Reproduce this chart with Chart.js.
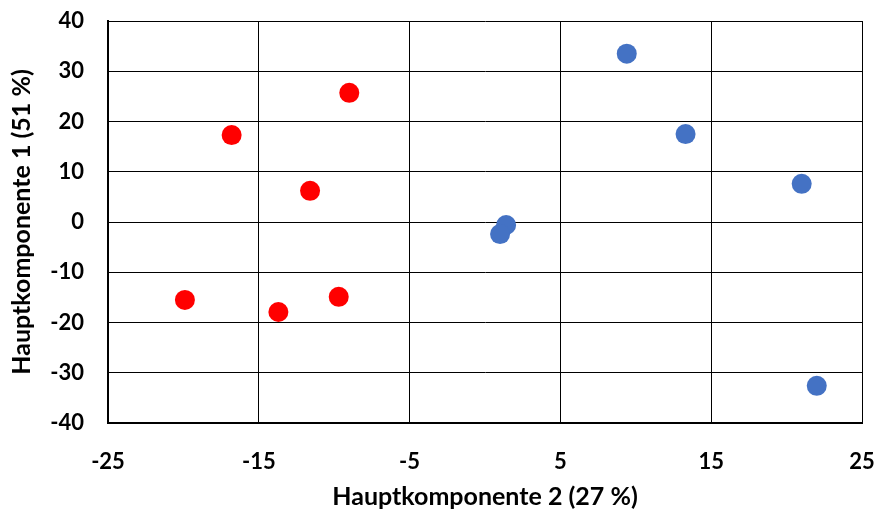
<!DOCTYPE html>
<html>
<head>
<meta charset="utf-8">
<script src="https://cdn.jsdelivr.net/npm/chart.js@4"></script>
<style>
  body { margin: 0; background: #fff; }
  #chart { display: block; }
</style>
</head>
<body>
<canvas id="chart" width="877" height="515"></canvas>
<script>
// Gruppe 1 (rot) und Gruppe 2 (blau): x = PK2, y = PK1
const rotX = [-16.8, -9.0, -11.6, -19.9, -13.7, -9.7];
const rotY = [17.3, 25.7, 6.2, -15.5, -17.9, -14.9];
const blauX = [9.4, 13.3, 21.0, 22.0, 1.4, 1.0];
const blauY = [33.5, 17.5, 7.6, -32.6, -0.6, -2.4];

const xTicks = [-25, -15, -5, 5, 15, 25];
const yTicks = [-40, -30, -20, -10, 0, 10, 20, 30, 40];

const toPoints = (xs, ys) => xs.map((x, i) => ({ x: x, y: ys[i] }));

const tickFont = { family: "Lato, 'Open Sans', sans-serif", size: 22, weight: 'bold' };
const titleFont = { family: "Lato, 'Open Sans', sans-serif", size: 25, weight: 'bold' };

// keine Extra-Abstaende fuer ueberstehende Beschriftungen
const noPad = axis => {
  axis.paddingTop = 0; axis.paddingBottom = 0;
  axis.paddingLeft = 0; axis.paddingRight = 0;
};

new Chart(document.getElementById("chart"), {
  type: 'scatter',
  data: {
    datasets: [
      { label: 'rot', data: toPoints(rotX, rotY), backgroundColor: '#ff0000', borderWidth: 0, pointRadius: 10, pointHoverRadius: 10 },
      { label: 'blau', data: toPoints(blauX, blauY), backgroundColor: '#4472c4', borderWidth: 0, pointRadius: 10, pointHoverRadius: 10 }
    ]
  },
  options: {
    responsive: false,
    animation: false,
    layout: { padding: { top: 21, right: 15, left: 0, bottom: 0 } },
    plugins: { legend: { display: false }, tooltip: { enabled: false } },
    scales: {
      x: {
        min: -25, max: 25,
        afterBuildTicks: axis => { axis.ticks = xTicks.map(v => ({ value: v })); },
        afterFit: axis => { axis.height = 92; noPad(axis); },
        ticks: { color: '#000', font: tickFont, padding: 26, maxRotation: 0 },
        grid: { color: '#000', lineWidth: 1, drawTicks: false },
        border: { color: '#000', width: 2 },
        title: { display: true, text: 'Hauptkomponente 2 (27 %)', color: '#000', font: titleFont, padding: { top: 0, bottom: 3 } }
      },
      y: {
        min: -40, max: 40,
        afterBuildTicks: axis => { axis.ticks = yTicks.map(v => ({ value: v })); },
        afterFit: axis => { axis.width = 108; noPad(axis); },
        ticks: { color: '#000', font: tickFont, padding: 24 },
        grid: { color: '#000', lineWidth: 1, drawTicks: false },
        border: { color: '#000', width: 2 },
        title: { display: true, text: 'Hauptkomponente 1 (51 %)', color: '#000', font: titleFont, padding: 7 }
      }
    }
  }
});
</script>
</body>
</html>
